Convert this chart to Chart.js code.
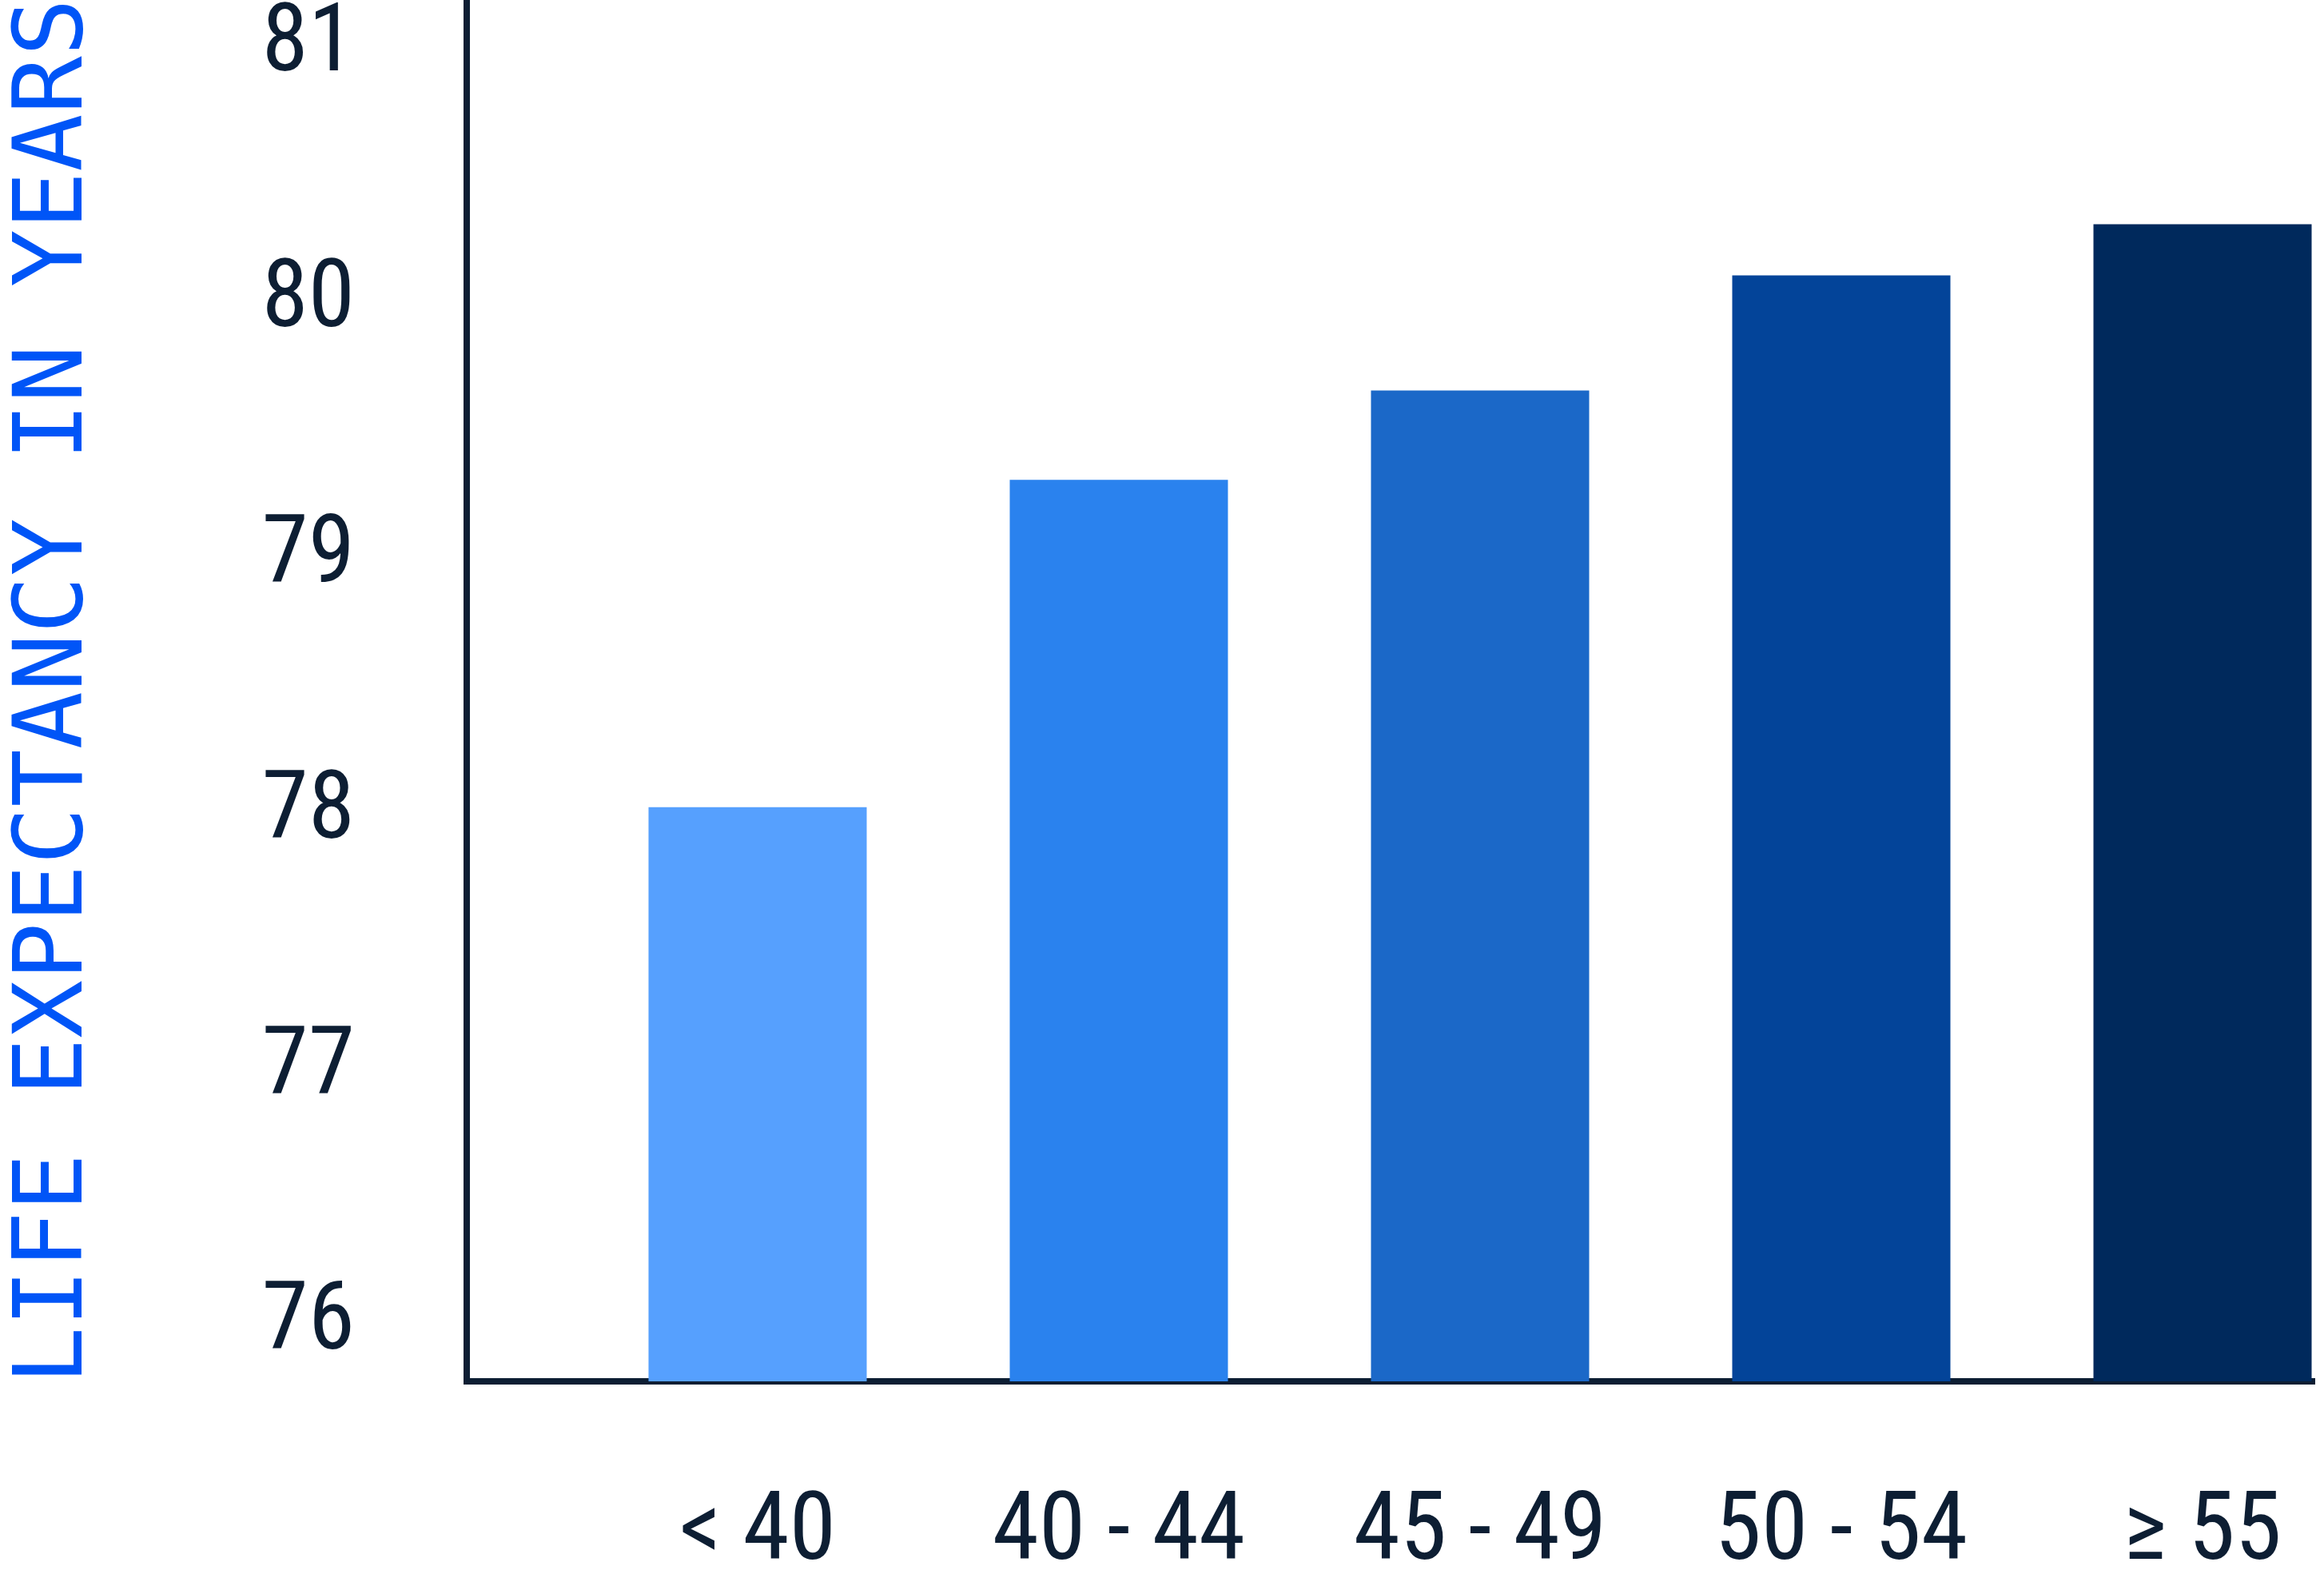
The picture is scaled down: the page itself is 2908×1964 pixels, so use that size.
<!DOCTYPE html>
<html>
<head>
<meta charset="utf-8">
<script src="https://cdn.jsdelivr.net/npm/chart.js@4/dist/chart.umd.min.js"></script>
<style>
  html, body { margin: 0; padding: 0; background: #ffffff; overflow: hidden; width: 2908px; height: 1964px; }
  #wrap { position: absolute; left: 0; top: -98px; width: 2908px; height: 2062px; }
</style>
</head>
<body>
<div id="wrap"><canvas id="c" width="2908" height="2062"></canvas></div>
<script>
// ---- data ----
const categories = ['< 40', '40 - 44', '45 - 49', '50 - 54', '≥ 55'];
const lifeExpectancy = [77.98, 79.26, 79.61, 80.06, 80.26];
const yTickValues = [76, 77, 78, 79, 80, 81];
const yAxisTitle = 'LIFE EXPECTANCY IN YEARS';

// ---- styling ----
const INK = '#0D1E33';
const TITLE_BLUE = '#0055F7';
const BAR_COLORS = ['#56A0FE', '#2A82EE', '#1B68C8', '#034499', '#00295C'];
const TICK_FONT = { family: "'Roboto Condensed', 'Roboto', sans-serif", size: 118, lineHeight: 1 };

const points = categories.map((c, i) => ({ x: i, y: lifeExpectancy[i] }));

new Chart(document.getElementById('c'), {
  type: 'bar',
  data: {
    datasets: [{
      data: points,
      backgroundColor: BAR_COLORS,
      borderWidth: 0,
      barPercentage: 1,
      categoryPercentage: 0.604
    }]
  },
  options: {
    responsive: false,
    animation: false,
    devicePixelRatio: 1,
    layout: { padding: { top: 100, right: 12, bottom: 0, left: 0 } },
    plugins: { legend: { display: false }, tooltip: { enabled: false } },
    scales: {
      x: {
        type: 'linear',
        position: 'bottom',
        offset: false,
        bounds: 'data',
        min: -0.8053,
        max: 4.3097,
        z: 1,
        afterFit: (s) => { s.height = 236; },
        afterBuildTicks: (s) => { s.ticks = categories.map((c, i) => ({ value: i })); },
        ticks: {
          stepSize: 1,
          includeBounds: false,
          autoSkip: false,
          maxRotation: 0,
          minRotation: 0,
          padding: 0,
          color: INK,
          font: TICK_FONT,
          callback: (v) => categories[v] ?? ''
        },
        grid: { display: true, offset: false, color: 'rgba(0,0,0,0)', drawOnChartArea: false, drawTicks: true, tickLength: 133 },
        border: { display: true, color: INK, width: 8 }
      },
      y: {
        type: 'linear',
        position: 'left',
        min: 75.734,
        max: 81.131,
        z: 1,
        afterFit: (s) => { s.width = 584; },
        afterBuildTicks: (s) => { s.ticks = yTickValues.map(v => ({ value: v })); },
        ticks: {
          stepSize: 1,
          includeBounds: false,
          autoSkip: false,
          padding: 0,
          labelOffset: 15,
          color: INK,
          font: TICK_FONT
        },
        grid: { display: true, color: 'rgba(0,0,0,0)', drawOnChartArea: false, drawTicks: true, tickLength: 140 },
        border: { display: true, color: INK, width: 8 },
        title: {
          display: true,
          text: yAxisTitle,
          color: TITLE_BLUE,
          font: { family: "'DejaVu Sans Mono', 'Liberation Mono', monospace", size: 120, weight: 'normal', lineHeight: 1 },
          padding: { top: 11, bottom: 0 }
        }
      }
    }
  }
});
</script>
</body>
</html>
